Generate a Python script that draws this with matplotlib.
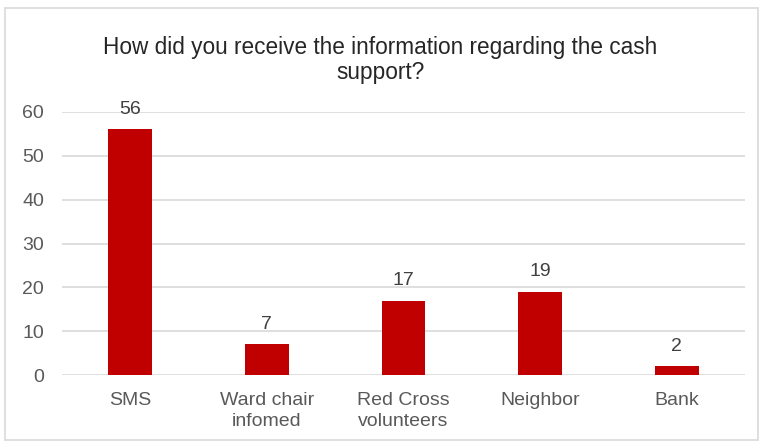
import matplotlib
matplotlib.use('Agg')
from matplotlib import pyplot as plt
from matplotlib.patches import Rectangle
import numpy as np

categories = ['SMS', 'Ward chair\ninfomed', 'Red Cross\nvolunteers', 'Neighbor', 'Bank']
counts = [56, 7, 17, 19, 2]
yticks = [0, 10, 20, 30, 40, 50, 60]

plt.rcParams['font.family'] = ['Liberation Sans', 'DejaVu Sans']

fig = plt.figure(figsize=(7.61, 4.44), dpi=100)
ax = fig.add_axes([0.0815, 0.155, 0.8975, 0.593])

# chart border
fig.patches.append(Rectangle((0.006, 0.009), 0.99, 0.972, transform=fig.transFigure,
                             fill=False, edgecolor='#d9d9d9', linewidth=1.2))

x = np.arange(len(categories))
bars = ax.bar(x, counts, width=0.32, color='#c00000', zorder=3)
for b, v in zip(bars, counts):
    ax.text(b.get_x() + b.get_width() / 2, v + 2.6, str(v), ha='center', va='bottom',
            fontsize=14, color='#404040')

ax.set_xlim(-0.5, len(categories) - 0.5)
ax.set_ylim(0, 60)
ax.set_yticks(yticks)
ax.set_xticks(x)
ax.set_xticklabels(categories, linespacing=1.35)
ax.tick_params(axis='both', length=0, labelsize=14, labelcolor='#595959')
ax.tick_params(axis='y', pad=13)
ax.tick_params(axis='x', pad=12)
ax.grid(axis='y', color='#d9d9d9', linewidth=1.2, zorder=0)
for s in ax.spines.values():
    s.set_visible(False)

fig.text(0.5, 0.865, 'How did you receive the information regarding the cash\nsupport?',
         ha='center', va='center', fontsize=16.3, color='#262626', linespacing=1.1)

fig.savefig('out.png', dpi=100)
